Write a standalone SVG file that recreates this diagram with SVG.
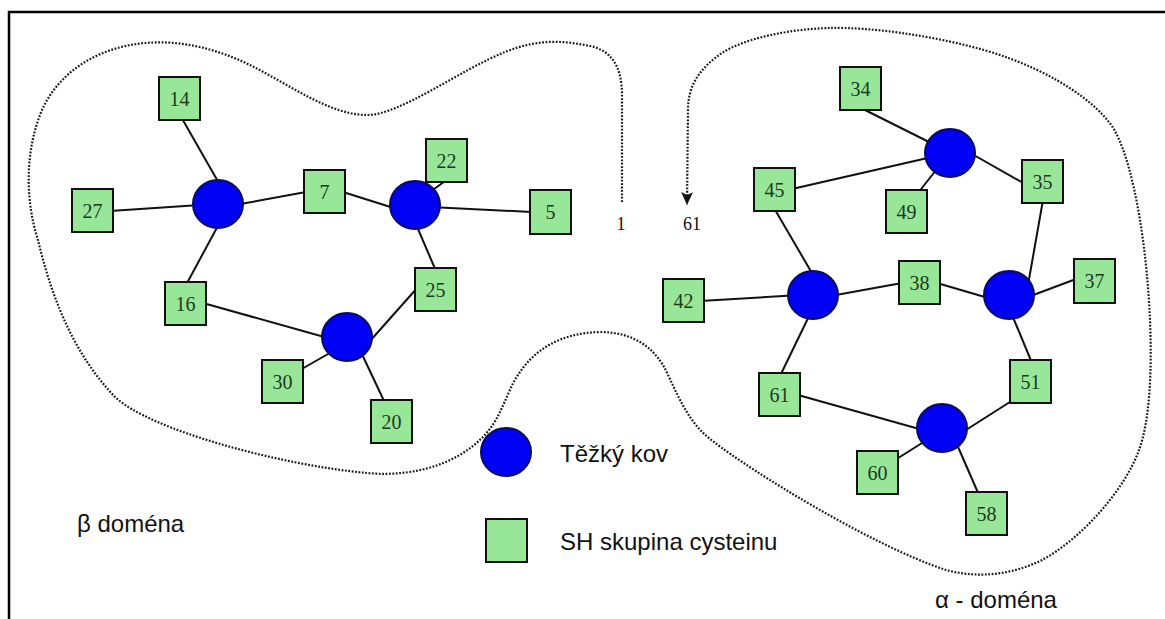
<svg xmlns="http://www.w3.org/2000/svg" width="1165" height="619" viewBox="0 0 1165 619">
<defs>
<style>
.sh{fill:#98e698;stroke:#111;stroke-width:2}
.hm{fill:#0000f5;stroke:#0a0a60;stroke-width:2}
.lbl{font-family:"Liberation Serif",serif;font-size:20px;fill:#1e3a1e;text-anchor:middle}
.end{font-family:"Liberation Serif",serif;font-size:18px;fill:#111;text-anchor:middle}
.leg{font-family:"Liberation Sans",sans-serif;font-size:24px;fill:#111}
.e{stroke:#111;stroke-width:2;fill:none}
.dom{fill:none;stroke:#1a1a1a;stroke-width:2.2;stroke-dasharray:1.8 1.6}
</style>
<marker id="arr" markerUnits="userSpaceOnUse" markerWidth="14" markerHeight="12" viewBox="0 0 14 12" refX="13" refY="6" orient="auto">
<path d="M0,0 L13,6 L0,12 L3,6 z" fill="#111"/>
</marker>
</defs>
<rect width="1165" height="619" fill="#fff"/>
<path d="M9,619 L9,12 L1165,12" fill="none" stroke="#000" stroke-width="2.5"/>

<g id="chain">
<path class="dom" marker-end="url(#arr)" d="M622,202 L622,95 C622,65 610,50 590,46 C565,41 540,38 505,52 C460,70 400,115 367,115 C330,115 290,85 250,65 C215,48 180,40 145,43 C100,47 60,70 42,110 C25,150 25,200 38,240 C50,290 70,350 115,397 C150,430 280,465 367,473 C420,478 470,460 494,423 C505,405 510,385 520,372 C535,350 560,333 600,332 C630,332 655,345 668,375 C680,400 690,425 714,442 C750,470 870,545 946,570 C975,578 1010,576 1042,560 C1080,540 1125,490 1139,450 C1150,420 1152,370 1150,320 C1147,250 1135,170 1116,133 C1105,110 1060,72 984,50 C930,35 870,27 830,28 C790,29 745,38 722,53 C700,68 688,85 688,110 L687,205"/>
<text class="end" x="621" y="230">1</text>
<text class="end" x="692" y="230">61</text>
</g>

<g id="connectors">
<line class="e" x1="180" y1="115" x2="220" y2="185"/>
<line class="e" x1="110" y1="211" x2="200" y2="205"/>
<line class="e" x1="235" y1="205" x2="306" y2="192"/>
<line class="e" x1="343" y1="192" x2="400" y2="210"/>
<line class="e" x1="430" y1="192" x2="448" y2="179"/>
<line class="e" x1="430" y1="207" x2="532" y2="212"/>
<line class="e" x1="415" y1="222" x2="436" y2="271"/>
<line class="e" x1="220" y1="222" x2="186" y2="285"/>
<line class="e" x1="203" y1="303" x2="335" y2="340"/>
<line class="e" x1="418" y1="287" x2="362" y2="350"/>
<line class="e" x1="335" y1="350" x2="300" y2="370"/>
<line class="e" x1="360" y1="350" x2="385" y2="403"/>
<line class="e" x1="861" y1="108" x2="935" y2="145"/>
<line class="e" x1="792" y1="189" x2="932" y2="157"/>
<line class="e" x1="940" y1="165" x2="918" y2="193"/>
<line class="e" x1="965" y1="150" x2="1025" y2="184"/>
<line class="e" x1="1043" y1="200" x2="1028" y2="285"/>
<line class="e" x1="774" y1="208" x2="816" y2="280"/>
<line class="e" x1="700" y1="301" x2="800" y2="295"/>
<line class="e" x1="825" y1="297" x2="902" y2="283"/>
<line class="e" x1="937" y1="283" x2="995" y2="300"/>
<line class="e" x1="1020" y1="300" x2="1076" y2="279"/>
<line class="e" x1="812" y1="310" x2="780" y2="376"/>
<line class="e" x1="1010" y1="310" x2="1032" y2="363"/>
<line class="e" x1="798" y1="395" x2="930" y2="432"/>
<line class="e" x1="1013" y1="400" x2="955" y2="437"/>
<line class="e" x1="930" y1="438" x2="895" y2="460"/>
<line class="e" x1="955" y1="440" x2="979" y2="495"/>
</g>

<g id="m1"><ellipse class="hm" cx="218" cy="204" rx="25" ry="24"/></g>
<g id="m2"><ellipse class="hm" cx="415" cy="205" rx="25" ry="24"/></g>
<g id="m3"><ellipse class="hm" cx="347" cy="337" rx="25" ry="24"/></g>
<g id="m4"><ellipse class="hm" cx="950" cy="153" rx="25" ry="24"/></g>
<g id="m5"><ellipse class="hm" cx="813" cy="295" rx="25" ry="24"/></g>
<g id="m6"><ellipse class="hm" cx="1009" cy="295" rx="25" ry="24"/></g>
<g id="m7"><ellipse class="hm" cx="942" cy="428" rx="25" ry="24"/></g>

<g id="c14"><rect class="sh" x="159" y="77" width="41" height="43"/><text class="lbl" x="179.5" y="105.5">14</text></g>
<g id="c27"><rect class="sh" x="72" y="189" width="41" height="43"/><text class="lbl" x="92.5" y="217.5">27</text></g>
<g id="c7"><rect class="sh" x="304" y="170" width="41" height="43"/><text class="lbl" x="324.5" y="198.5">7</text></g>
<g id="c22"><rect class="sh" x="426" y="139" width="41" height="43"/><text class="lbl" x="446.5" y="167.5">22</text></g>
<g id="c5"><rect class="sh" x="530" y="190" width="41" height="44"/><text class="lbl" x="550.5" y="219">5</text></g>
<g id="c25"><rect class="sh" x="415" y="268" width="41" height="43"/><text class="lbl" x="435.5" y="296.5">25</text></g>
<g id="c16"><rect class="sh" x="165" y="282" width="41" height="43"/><text class="lbl" x="185.5" y="310.5">16</text></g>
<g id="c30"><rect class="sh" x="262" y="360" width="41" height="43"/><text class="lbl" x="282.5" y="388.5">30</text></g>
<g id="c20"><rect class="sh" x="371" y="400" width="41" height="43"/><text class="lbl" x="391.5" y="428.5">20</text></g>
<g id="c34"><rect class="sh" x="840" y="67" width="41" height="43"/><text class="lbl" x="860.5" y="95.5">34</text></g>
<g id="c45"><rect class="sh" x="754" y="168" width="41" height="43"/><text class="lbl" x="774.5" y="196.5">45</text></g>
<g id="c49"><rect class="sh" x="886" y="190" width="41" height="43"/><text class="lbl" x="906.5" y="218.5">49</text></g>
<g id="c35"><rect class="sh" x="1022" y="160" width="41" height="43"/><text class="lbl" x="1042.5" y="188.5">35</text></g>
<g id="c42"><rect class="sh" x="663" y="279" width="41" height="43"/><text class="lbl" x="683.5" y="307.5">42</text></g>
<g id="c38"><rect class="sh" x="899" y="261" width="41" height="43"/><text class="lbl" x="919.5" y="289.5">38</text></g>
<g id="c37"><rect class="sh" x="1074" y="259" width="41" height="44"/><text class="lbl" x="1094.5" y="288">37</text></g>
<g id="c61"><rect class="sh" x="759" y="373" width="41" height="43"/><text class="lbl" x="779.5" y="401.5">61</text></g>
<g id="c51"><rect class="sh" x="1010" y="360" width="41" height="43"/><text class="lbl" x="1030.5" y="388.5">51</text></g>
<g id="c60"><rect class="sh" x="857" y="451" width="41" height="43"/><text class="lbl" x="877.5" y="479.5">60</text></g>
<g id="c58"><rect class="sh" x="966" y="492" width="41" height="43"/><text class="lbl" x="986.5" y="520.5">58</text></g>

<g id="legend">
<ellipse class="hm" cx="506" cy="452" rx="25" ry="24"/>
<text class="leg" x="560" y="462">Těžký kov</text>
<rect class="sh" x="486" y="519" width="41" height="43"/>
<text class="leg" x="560" y="550">SH skupina cysteinu</text>
</g>
<g id="domain-labels">
<text class="leg" x="77" y="532">β doména</text>
<text class="leg" x="935" y="608">α - doména</text>
</g>
</svg>
